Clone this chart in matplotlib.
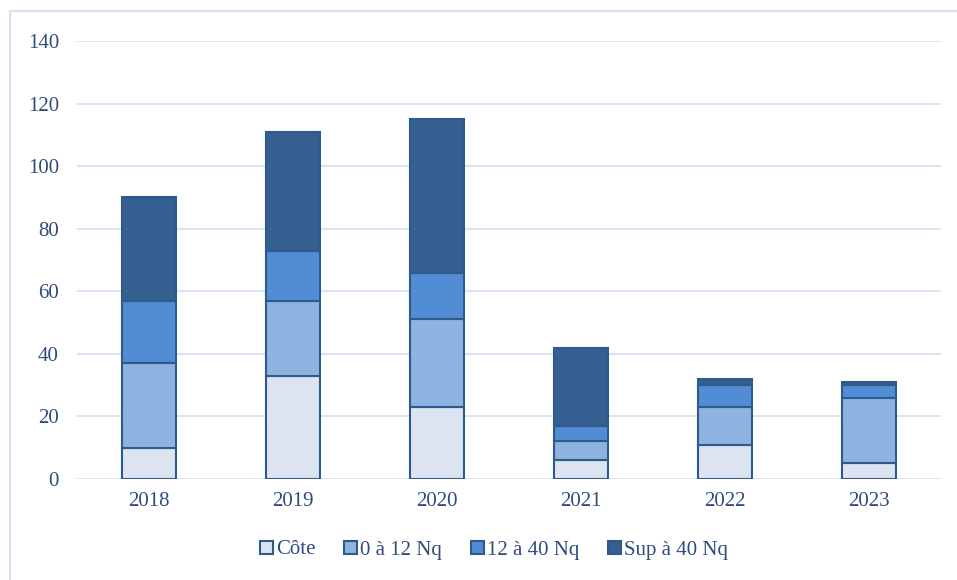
import matplotlib
matplotlib.use("Agg")
import matplotlib.pyplot as plt
from matplotlib.patches import Rectangle
import numpy as np

years = ["2018", "2019", "2020", "2021", "2022", "2023"]
cote = [10, 33, 23, 6, 11, 5]
nq_0_12 = [27, 24, 28, 6, 12, 21]
nq_12_40 = [20, 16, 15, 5, 7, 4]
sup_40 = [33, 38, 49, 25, 2, 1]
series_names = ["Côte", "0 à 12 Nq", "12 à 40 Nq", "Sup à 40 Nq"]
yticks = [0, 20, 40, 60, 80, 100, 120, 140]

colors = ["#DCE4F1", "#8EB3E1", "#518CD4", "#355F91"]
edge = "#2F5A8C"
text_color = "#2F4B7C"
grid_color = "#D5E1F2"

plt.rcParams['font.family'] = ['Liberation Serif', 'DejaVu Serif']

fig = plt.figure(figsize=(9.57, 5.8), dpi=100)
ax = fig.add_axes([77/957, 1 - 479/580, (941-77)/957, (479-41)/580])

x = np.arange(len(years))
bottom = np.zeros(len(years))
handles = []
for vals, c, name in zip([cote, nq_0_12, nq_12_40, sup_40], colors, series_names):
    b = ax.bar(x, vals, bottom=bottom, width=0.37, color=c, edgecolor=edge,
               linewidth=1.5, label=name, zorder=3)
    handles.append(b)
    bottom += np.array(vals)

ax.set_xlim(-0.5, 5.5)
ax.set_ylim(0, 140)
ax.set_yticks(yticks)
ax.set_xticks(x)
ax.set_xticklabels(years)
ax.tick_params(axis='both', length=0, labelsize=15, colors=text_color)
ax.tick_params(axis='x', pad=9)
ax.tick_params(axis='y', pad=13)
ax.yaxis.grid(True, color=grid_color, linewidth=1.3, zorder=0)
ax.set_axisbelow(True)
for s in ax.spines.values():
    s.set_visible(False)

leg = fig.legend(handles=handles, labels=series_names, loc='center',
                 bbox_to_anchor=(494/957, 1 - 550/580), ncol=4, frameon=False,
                 fontsize=15, handlelength=0.6, handleheight=0.6,
                 handletextpad=0.15, columnspacing=1.4)
for t in leg.get_texts():
    t.set_color(text_color)

fig.patches.append(Rectangle((9.5/957, -0.01), 1.0, 1 - 11/580 + 0.01,
                             transform=fig.transFigure, fill=False,
                             edgecolor=grid_color, linewidth=1.5))

fig.savefig("out.png", dpi=100)
